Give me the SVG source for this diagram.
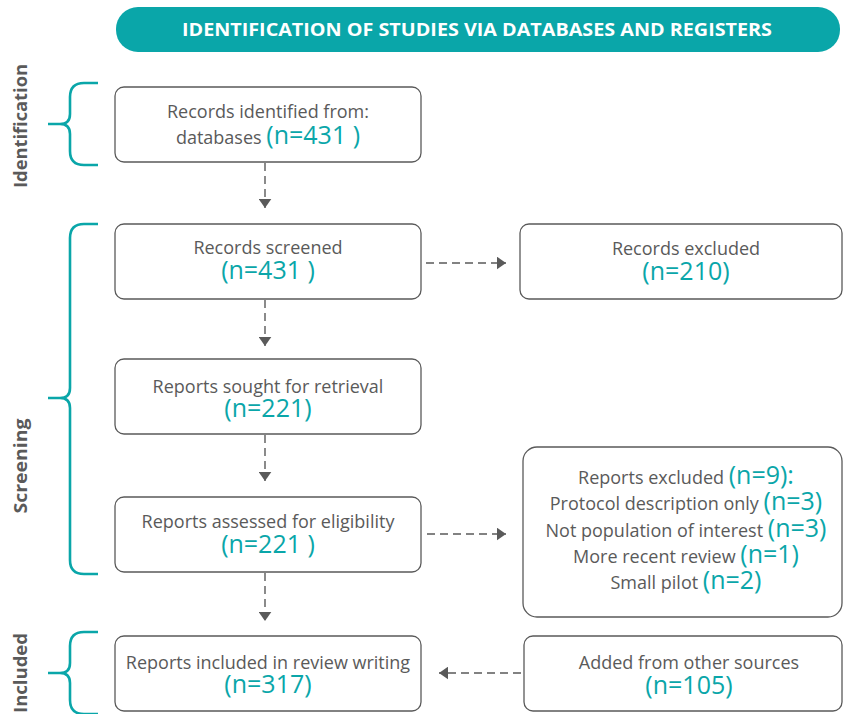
<svg xmlns="http://www.w3.org/2000/svg" width="844" height="714" viewBox="0 0 844 714">
<style>
.box{fill:#fff;stroke:#5a5a5a;stroke-width:1.3}
.t{font-family:"Open Sans",sans-serif;font-size:18px;fill:#5a5a5a;text-anchor:middle}
.n{font-family:"Open Sans",sans-serif;font-size:25px;fill:#0aa6a9}
.lab{font-family:"Open Sans",sans-serif;font-weight:bold;font-size:17px;fill:#5a5a5a;text-anchor:middle}
.brace{fill:none;stroke:#0aa6a9;stroke-width:2.6}
.conn{stroke:#5a5a5a;stroke-width:1.4;stroke-dasharray:8 5;fill:none}
</style>
<defs>
<marker id="ah" viewBox="0 0 10 14" refX="10" refY="7" markerWidth="9" markerHeight="13" markerUnits="userSpaceOnUse" orient="auto">
<path d="M0,0 L10,7 L0,14 Z" fill="#5a5a5a"/>
</marker>
</defs>
<g id="header">
<rect x="116" y="7" width="724" height="45" rx="22" fill="#0aa6a9"/>
<text x="477" y="36" font-family="'Open Sans',sans-serif" font-weight="bold" font-size="17" fill="#fff" text-anchor="middle" textLength="590" lengthAdjust="spacingAndGlyphs">IDENTIFICATION OF STUDIES VIA DATABASES AND REGISTERS</text>
</g>
<g id="stages">
<path class="brace" d="M98,83 H84 Q70,83 70,97 V114 Q70,124 60,124 H48 M60,124 Q70,124 70,134 V151 Q70,165 84,165 H98"/>
<text class="lab" transform="translate(27,126) rotate(-90)" textLength="124" lengthAdjust="spacingAndGlyphs">Identification</text>
<path class="brace" d="M98,224 H84 Q70,224 70,238 V388 Q70,398 60,398 H48 M60,398 Q70,398 70,408 V560 Q70,574 84,574 H98"/>
<text class="lab" transform="translate(27,466) rotate(-90)" textLength="95" lengthAdjust="spacingAndGlyphs">Screening</text>
<path class="brace" d="M98,632 H84 Q70,632 70,646 V663 Q70,673 60,673 H48 M60,673 Q70,673 70,683 V700 Q70,714 84,714 H98"/>
<text class="lab" transform="translate(27,673) rotate(-90)" textLength="80" lengthAdjust="spacingAndGlyphs">Included</text>
</g>
<g id="n1">
<rect class="box" x="115" y="87" width="306" height="75" rx="9"/>
<text class="t" x="268" y="118">Records identified from:</text>
<text class="t" x="268" y="144">databases <tspan class="n">(n=431 )</tspan></text>
</g>
<g id="n2">
<rect class="box" x="115" y="224" width="306" height="75" rx="9"/>
<text class="t" x="268" y="254">Records screened</text>
<text class="t n" x="268" y="279" style="text-anchor:middle">(n=431 )</text>
</g>
<g id="n3">
<rect class="box" x="520" y="224" width="322" height="75" rx="9"/>
<text class="t" x="686" y="255">Records excluded</text>
<text class="t n" x="686" y="280" style="text-anchor:middle">(n=210)</text>
</g>
<g id="n4">
<rect class="box" x="115" y="359" width="306" height="75" rx="9"/>
<text class="t" x="268" y="393">Reports sought for retrieval</text>
<text class="t n" x="268" y="417" style="text-anchor:middle">(n=221)</text>
</g>
<g id="n5">
<rect class="box" x="115" y="497" width="306" height="75" rx="9"/>
<text class="t" x="268" y="528">Reports assessed for eligibility</text>
<text class="t n" x="268" y="553" style="text-anchor:middle">(n=221 )</text>
</g>
<g id="n6">
<rect class="box" x="523" y="447" width="319" height="170" rx="14"/>
<text class="t" x="686" y="484">Reports excluded <tspan class="n">(n=9):</tspan></text>
<text class="t" x="686" y="510">Protocol description only <tspan class="n">(n=3)</tspan></text>
<text class="t" x="686" y="537">Not population of interest <tspan class="n">(n=3)</tspan></text>
<text class="t" x="686" y="563">More recent review <tspan class="n">(n=1)</tspan></text>
<text class="t" x="686" y="589">Small pilot <tspan class="n">(n=2)</tspan></text>
</g>
<g id="n7">
<rect class="box" x="115" y="636" width="306" height="75" rx="9"/>
<text class="t" x="268" y="669">Reports included in review writing</text>
<text class="t n" x="268" y="693" style="text-anchor:middle">(n=317)</text>
</g>
<g id="n8">
<rect class="box" x="524" y="636" width="318" height="75" rx="9"/>
<text class="t" x="689" y="669">Added from other sources</text>
<text class="t n" x="689" y="694" style="text-anchor:middle">(n=105)</text>
</g>
<g id="connectors">
<path class="conn" d="M265,163 V208" marker-end="url(#ah)"/>
<path class="conn" d="M265,300 V346" marker-end="url(#ah)"/>
<path class="conn" d="M265,435 V481" marker-end="url(#ah)"/>
<path class="conn" d="M265,573 V621" marker-end="url(#ah)"/>
<path class="conn" d="M426,263 H506" marker-end="url(#ah)"/>
<path class="conn" d="M427,534 H506" marker-end="url(#ah)"/>
<path class="conn" d="M521,673 H439" marker-end="url(#ah)"/>
</g>
</svg>
